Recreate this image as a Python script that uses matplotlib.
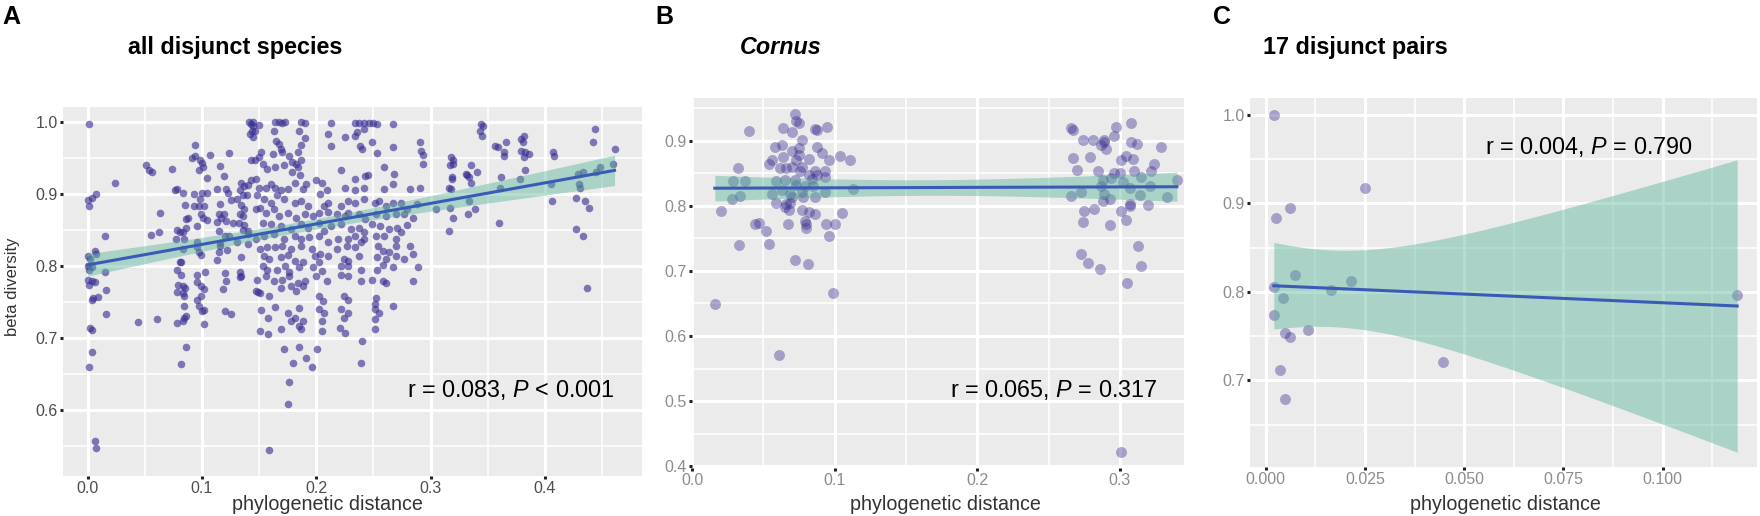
import numpy as np
import matplotlib.pyplot as plt
from matplotlib.ticker import MultipleLocator, FormatStrFormatter

plt.rcParams['font.family'] = ['Liberation Sans', 'DejaVu Sans']
plt.rcParams['mathtext.fontset'] = 'custom'
plt.rcParams['mathtext.rm'] = 'Liberation Sans'
plt.rcParams['mathtext.it'] = 'Liberation Sans:italic'

# ---- panel A: all disjunct species (phylogenetic distance, beta diversity)
a_left = [
    (0.001, 0.998), (0.000, 0.892), (0.001, 0.884), (0.004, 0.894), (0.007, 0.900),
    (0.000, 0.814), (0.002, 0.809), (0.004, 0.798), (0.006, 0.821), (0.007, 0.816),
    (0.000, 0.800), (0.001, 0.794), (0.000, 0.781), (0.004, 0.779), (0.006, 0.778),
    (0.001, 0.774), (0.004, 0.753), (0.005, 0.756), (0.009, 0.757), (0.002, 0.714),
    (0.004, 0.711), (0.004, 0.680), (0.001, 0.660), (0.006, 0.556), (0.007, 0.547),
    (0.015, 0.841), (0.015, 0.791), (0.016, 0.767), (0.016, 0.733), (0.024, 0.916),
    (0.044, 0.722), (0.051, 0.941), (0.054, 0.934), (0.056, 0.930), (0.055, 0.843),
    (0.062, 0.847), (0.063, 0.873), (0.061, 0.726), (0.074, 0.935),
    (0.076, 0.905), (0.078, 0.907), (0.083, 0.902), (0.085, 0.885), (0.088, 0.867),
    (0.086, 0.865), (0.078, 0.850), (0.081, 0.847), (0.083, 0.847), (0.086, 0.853),
    (0.077, 0.837), (0.084, 0.837), (0.083, 0.823), (0.081, 0.806), (0.082, 0.805),
    (0.078, 0.794), (0.082, 0.788), (0.079, 0.774), (0.083, 0.772), (0.085, 0.770),
    (0.078, 0.764), (0.083, 0.763), (0.084, 0.758), (0.084, 0.744), (0.086, 0.731),
    (0.084, 0.727), (0.078, 0.721), (0.083, 0.723), (0.086, 0.688), (0.082, 0.664),
    (0.094, 0.968), (0.091, 0.950), (0.094, 0.953), (0.098, 0.947), (0.100, 0.943),
    (0.097, 0.933), (0.101, 0.937), (0.104, 0.922), (0.093, 0.900), (0.100, 0.901),
    (0.104, 0.901), (0.098, 0.893), (0.093, 0.883), (0.097, 0.883), (0.102, 0.883),
    (0.099, 0.872), (0.101, 0.867), (0.096, 0.856), (0.104, 0.864), (0.096, 0.833),
    (0.096, 0.826), (0.099, 0.815), (0.097, 0.819), (0.096, 0.788), (0.103, 0.792),
    (0.096, 0.778), (0.099, 0.772), (0.102, 0.768), (0.096, 0.753), (0.099, 0.758),
    (0.097, 0.744), (0.100, 0.737), (0.102, 0.739), (0.102, 0.720),
    (0.107, 0.954), (0.124, 0.957), (0.116, 0.939), (0.119, 0.925), (0.113, 0.907),
    (0.121, 0.907), (0.123, 0.902), (0.116, 0.886), (0.125, 0.892), (0.115, 0.872),
    (0.119, 0.872), (0.117, 0.867), (0.113, 0.861), (0.121, 0.863), (0.127, 0.860),
    (0.115, 0.849), (0.120, 0.842), (0.124, 0.842), (0.116, 0.832), (0.116, 0.828),
    (0.115, 0.819), (0.122, 0.822), (0.113, 0.808), (0.120, 0.790), (0.121, 0.779),
    (0.118, 0.768), (0.120, 0.737), (0.125, 0.733),
    (0.143, 0.998), (0.145, 0.994), (0.144, 0.988), (0.142, 0.984), (0.145, 0.979),
    (0.150, 0.996), (0.143, 0.947), (0.150, 0.951), (0.147, 0.921), (0.134, 0.916),
    (0.137, 0.911), (0.140, 0.913), (0.133, 0.906), (0.136, 0.898), (0.131, 0.893),
    (0.139, 0.898), (0.151, 0.881), (0.134, 0.885), (0.137, 0.879), (0.133, 0.872),
    (0.136, 0.869), (0.132, 0.860), (0.137, 0.857), (0.136, 0.850), (0.140, 0.849),
    (0.140, 0.844), (0.131, 0.833), (0.140, 0.830), (0.134, 0.813), (0.133, 0.791),
    (0.134, 0.786), (0.133, 0.784), (0.149, 0.764),
]

a_mid = [
    (0.141, 1.000), (0.145, 1.000), (0.164, 1.000), (0.167, 1.000), (0.170, 0.999),
    (0.173, 1.000), (0.187, 1.000), (0.190, 0.999), (0.213, 0.999), (0.234, 0.999),
    (0.237, 0.999), (0.242, 0.999), (0.246, 0.999), (0.250, 0.999), (0.253, 0.998),
    (0.267, 0.997), (0.146, 0.988), (0.163, 0.988), (0.185, 0.988), (0.210, 0.984),
    (0.234, 0.980), (0.236, 0.986), (0.242, 0.991),
    (0.165, 0.974), (0.167, 0.970), (0.169, 0.963), (0.187, 0.968), (0.190, 0.978),
    (0.213, 0.967), (0.225, 0.979), (0.238, 0.967), (0.240, 0.963), (0.249, 0.973),
    (0.267, 0.965), (0.291, 0.972), (0.292, 0.960), (0.293, 0.954), (0.293, 0.942),
    (0.152, 0.958), (0.162, 0.956), (0.170, 0.958), (0.176, 0.953), (0.184, 0.958),
    (0.182, 0.942), (0.187, 0.947), (0.146, 0.947), (0.253, 0.957), (0.259, 0.937),
    (0.268, 0.928), (0.222, 0.934), (0.234, 0.921), (0.243, 0.925), (0.245, 0.927),
    (0.153, 0.942), (0.157, 0.935), (0.164, 0.937), (0.172, 0.940), (0.179, 0.944),
    (0.184, 0.937), (0.186, 0.926), (0.191, 0.914), (0.179, 0.930),
    (0.143, 0.920), (0.150, 0.909), (0.156, 0.908), (0.160, 0.914), (0.164, 0.909),
    (0.169, 0.905), (0.175, 0.907), (0.181, 0.916), (0.188, 0.907), (0.200, 0.919),
    (0.205, 0.916), (0.209, 0.906), (0.225, 0.909), (0.234, 0.906), (0.242, 0.909),
    (0.259, 0.907), (0.267, 0.914), (0.282, 0.907), (0.291, 0.909),
    (0.148, 0.898), (0.154, 0.893), (0.160, 0.888), (0.166, 0.898), (0.172, 0.893),
    (0.181, 0.888), (0.187, 0.891), (0.193, 0.884), (0.203, 0.900), (0.207, 0.884),
    (0.210, 0.888), (0.222, 0.884), (0.228, 0.891), (0.234, 0.888), (0.242, 0.893),
    (0.251, 0.888), (0.255, 0.891), (0.261, 0.884), (0.267, 0.888), (0.274, 0.888),
    (0.279, 0.879), (0.288, 0.886), (0.305, 0.879),
    (0.147, 0.879), (0.156, 0.874), (0.163, 0.879), (0.167, 0.870), (0.175, 0.874),
    (0.182, 0.867), (0.190, 0.872), (0.197, 0.870), (0.202, 0.874), (0.210, 0.875),
    (0.218, 0.872), (0.225, 0.870), (0.228, 0.874), (0.237, 0.872), (0.243, 0.865),
    (0.252, 0.872), (0.261, 0.870), (0.270, 0.872), (0.277, 0.872), (0.285, 0.867),
    (0.153, 0.860), (0.160, 0.858), (0.169, 0.856), (0.178, 0.851), (0.187, 0.858),
    (0.193, 0.853), (0.202, 0.860), (0.207, 0.849), (0.213, 0.856), (0.222, 0.858),
    (0.230, 0.851), (0.237, 0.853), (0.242, 0.847), (0.249, 0.858), (0.256, 0.856),
    (0.264, 0.851), (0.271, 0.853), (0.279, 0.857),
    (0.147, 0.837), (0.154, 0.842), (0.163, 0.844), (0.172, 0.837), (0.181, 0.842),
    (0.187, 0.837), (0.194, 0.840), (0.202, 0.842), (0.210, 0.833), (0.219, 0.837),
    (0.228, 0.837), (0.234, 0.842), (0.242, 0.837), (0.252, 0.841), (0.259, 0.842),
    (0.270, 0.837), (0.274, 0.847),
    (0.151, 0.823), (0.157, 0.826), (0.164, 0.826), (0.170, 0.828), (0.178, 0.824),
    (0.187, 0.828), (0.196, 0.824), (0.203, 0.816), (0.210, 0.814), (0.218, 0.823),
    (0.227, 0.828), (0.234, 0.826), (0.239, 0.833), (0.254, 0.828), (0.258, 0.821),
    (0.264, 0.819), (0.270, 0.828), (0.282, 0.828), (0.285, 0.816),
    (0.154, 0.814), (0.159, 0.809), (0.169, 0.812), (0.175, 0.815), (0.181, 0.807),
    (0.188, 0.805), (0.199, 0.814), (0.202, 0.805), (0.224, 0.809), (0.228, 0.807),
    (0.237, 0.814), (0.253, 0.812), (0.261, 0.809), (0.270, 0.814), (0.277, 0.809),
    (0.153, 0.800), (0.157, 0.795), (0.166, 0.795), (0.173, 0.800), (0.176, 0.791),
    (0.185, 0.798), (0.197, 0.798), (0.205, 0.793), (0.222, 0.800), (0.228, 0.800),
    (0.239, 0.795), (0.253, 0.795), (0.258, 0.802), (0.267, 0.798), (0.289, 0.798),
    (0.148, 0.781), (0.156, 0.786), (0.163, 0.779), (0.170, 0.781), (0.176, 0.786),
    (0.184, 0.777), (0.190, 0.779), (0.200, 0.786), (0.209, 0.779), (0.222, 0.788),
    (0.228, 0.786), (0.239, 0.779), (0.249, 0.781), (0.258, 0.779), (0.261, 0.777),
    (0.285, 0.779),
    (0.147, 0.765), (0.151, 0.763), (0.159, 0.758), (0.169, 0.770), (0.178, 0.772),
    (0.182, 0.765), (0.188, 0.772), (0.202, 0.758), (0.206, 0.751), (0.224, 0.758),
    (0.228, 0.753), (0.252, 0.756), (0.251, 0.747), (0.267, 0.744),
    (0.152, 0.739), (0.158, 0.728), (0.164, 0.743), (0.175, 0.735), (0.181, 0.728),
    (0.185, 0.742), (0.188, 0.723), (0.202, 0.740), (0.205, 0.723), (0.207, 0.735),
    (0.222, 0.740), (0.228, 0.735), (0.224, 0.728), (0.251, 0.740), (0.255, 0.735),
    (0.251, 0.726),
    (0.151, 0.709), (0.158, 0.705), (0.169, 0.712), (0.178, 0.723), (0.185, 0.716),
    (0.187, 0.712), (0.205, 0.709), (0.221, 0.714), (0.225, 0.707), (0.251, 0.712),
    (0.172, 0.685), (0.185, 0.688), (0.191, 0.672), (0.196, 0.660), (0.180, 0.665),
    (0.201, 0.685), (0.240, 0.695), (0.239, 0.665),
    (0.176, 0.638), (0.175, 0.608), (0.159, 0.544),
]

a_right = [
    (0.344, 0.998), (0.346, 0.995), (0.343, 0.988), (0.345, 0.981),
    (0.318, 0.951), (0.320, 0.947), (0.317, 0.940), (0.320, 0.942),
    (0.335, 0.940), (0.331, 0.928), (0.334, 0.923), (0.341, 0.930), (0.319, 0.923),
    (0.316, 0.909), (0.318, 0.907), (0.319, 0.921), (0.317, 0.881), (0.320, 0.867),
    (0.316, 0.849), (0.334, 0.891), (0.333, 0.872), (0.339, 0.879), (0.332, 0.926),
    (0.335, 0.916),
    (0.356, 0.967), (0.359, 0.965), (0.364, 0.958), (0.366, 0.972), (0.364, 0.953),
    (0.379, 0.977), (0.382, 0.981), (0.381, 0.972), (0.379, 0.960), (0.383, 0.958),
    (0.386, 0.956), (0.383, 0.933), (0.382, 0.951),
    (0.362, 0.923), (0.361, 0.909), (0.360, 0.860), (0.378, 0.921),
    (0.406, 0.891), (0.407, 0.958), (0.408, 0.953), (0.405, 0.914),
    (0.427, 0.895), (0.435, 0.891), (0.439, 0.881), (0.427, 0.851), (0.433, 0.842),
    (0.437, 0.770), (0.429, 0.928), (0.433, 0.930), (0.430, 0.914), (0.444, 0.991),
    (0.442, 0.972), (0.448, 0.937), (0.445, 0.930), (0.461, 0.962), (0.460, 0.942),
    (0.431, 0.909),
]

# ---- panel B: Cornus
b_near = [
    (0.072, 0.941), (0.073, 0.931), (0.075, 0.927), (0.040, 0.915), (0.064, 0.920),
    (0.070, 0.913), (0.086, 0.918), (0.088, 0.917), (0.095, 0.922), (0.077, 0.902),
    (0.058, 0.890), (0.063, 0.894), (0.070, 0.885), (0.075, 0.889), (0.088, 0.890),
    (0.091, 0.881), (0.075, 0.878), (0.064, 0.876), (0.056, 0.871), (0.054, 0.865),
    (0.073, 0.871), (0.082, 0.872), (0.096, 0.870), (0.104, 0.877), (0.111, 0.870),
    (0.032, 0.859), (0.062, 0.858), (0.066, 0.859), (0.070, 0.860), (0.077, 0.860),
    (0.086, 0.854), (0.093, 0.853), (0.076, 0.853), (0.082, 0.848), (0.088, 0.848),
    (0.093, 0.844), (0.029, 0.839), (0.037, 0.839), (0.059, 0.839), (0.065, 0.840),
    (0.072, 0.840), (0.084, 0.841), (0.073, 0.832), (0.079, 0.830), (0.113, 0.826),
    (0.056, 0.818), (0.063, 0.824), (0.069, 0.818), (0.077, 0.822), (0.085, 0.830),
    (0.093, 0.821), (0.028, 0.811), (0.034, 0.816), (0.059, 0.804), (0.070, 0.814),
    (0.078, 0.813), (0.086, 0.814), (0.066, 0.803), (0.069, 0.804), (0.065, 0.798),
    (0.068, 0.793), (0.077, 0.793), (0.082, 0.790), (0.086, 0.788), (0.020, 0.792),
    (0.105, 0.789), (0.044, 0.772), (0.047, 0.774), (0.067, 0.773), (0.079, 0.777),
    (0.080, 0.773), (0.080, 0.766), (0.094, 0.773), (0.100, 0.773), (0.052, 0.762),
    (0.033, 0.740), (0.054, 0.741), (0.096, 0.754), (0.072, 0.717), (0.081, 0.711),
    (0.099, 0.666), (0.016, 0.649), (0.061, 0.571),
]
b_far = [
    (0.266, 0.920), (0.267, 0.917), (0.308, 0.928), (0.297, 0.921), (0.296, 0.907),
    (0.329, 0.891), (0.274, 0.902), (0.281, 0.902), (0.289, 0.902), (0.289, 0.899),
    (0.287, 0.894), (0.290, 0.887), (0.308, 0.899), (0.312, 0.895), (0.267, 0.873),
    (0.279, 0.875), (0.301, 0.871), (0.304, 0.877), (0.309, 0.872), (0.270, 0.856),
    (0.285, 0.854), (0.296, 0.851), (0.300, 0.850), (0.310, 0.854), (0.322, 0.854),
    (0.324, 0.865), (0.315, 0.845), (0.288, 0.840), (0.294, 0.843), (0.302, 0.837),
    (0.287, 0.830), (0.273, 0.821), (0.266, 0.815), (0.289, 0.819), (0.293, 0.810),
    (0.288, 0.807), (0.307, 0.827), (0.314, 0.817), (0.321, 0.830), (0.333, 0.814),
    (0.340, 0.840), (0.275, 0.792), (0.282, 0.796), (0.301, 0.792), (0.307, 0.803),
    (0.307, 0.800), (0.320, 0.801), (0.274, 0.776), (0.293, 0.770), (0.304, 0.778),
    (0.313, 0.739), (0.273, 0.726), (0.278, 0.712), (0.286, 0.703), (0.315, 0.708),
    (0.305, 0.681), (0.301, 0.422),
]

# ---- panel C: 17 disjunct pairs
c_x = [0.002, 0.0026, 0.006, 0.025, 0.0074, 0.002, 0.0044, 0.0164, 0.0214,
       0.002, 0.0049, 0.0061, 0.0107, 0.0036, 0.0049, 0.0447, 0.1188]
c_y = [1.000, 0.883, 0.895, 0.917, 0.819, 0.805, 0.793, 0.802, 0.812,
       0.774, 0.753, 0.749, 0.757, 0.712, 0.679, 0.721, 0.796]

titles = ['all disjunct species', 'Cornus', '17 disjunct pairs']
letters = ['A', 'B', 'C']
stats = [r'r = 0.083, $\mathit{P}$ < 0.001',
         r'r = 0.065, $\mathit{P}$ = 0.317',
         r'r = 0.004, $\mathit{P}$ = 0.790']
t_crit = [1.965, 1.977, 2.131]

W, H = 1760, 516
fig = plt.figure(figsize=(W / 100, H / 100), dpi=100)

PT = '#372E92'
LINE = '#3A5BB5'
BAND = '#5BB59A'


def px_axes(l, t, r, b):
    return fig.add_axes([l / W, 1 - b / H, (r - l) / W, (b - t) / H])


def style(ax, xstep, ystep, xfmt, tick_col):
    ax.set_facecolor('#EBEBEB')
    for s in ax.spines.values():
        s.set_visible(False)
    ax.xaxis.set_major_locator(MultipleLocator(xstep))
    ax.xaxis.set_minor_locator(MultipleLocator(xstep / 2))
    ax.yaxis.set_major_locator(MultipleLocator(ystep))
    ax.yaxis.set_minor_locator(MultipleLocator(ystep / 2))
    ax.xaxis.set_major_formatter(FormatStrFormatter(xfmt))
    ax.yaxis.set_major_formatter(FormatStrFormatter('%.1f'))
    ax.grid(which='major', color='white', lw=2.2)
    ax.grid(which='minor', color='white', lw=1.1)
    ax.set_axisbelow(True)
    ax.tick_params(which='minor', length=0)
    ax.tick_params(which='major', length=2.4, width=2.2, color='#222222',
                   labelsize=11.5, labelcolor=tick_col, pad=1.5)


def smooth(ax, x, y, t):
    x = np.asarray(x)
    y = np.asarray(y)
    n = len(x)
    b1, b0 = np.polyfit(x, y, 1)
    s = np.sqrt(np.sum((y - (b0 + b1 * x)) ** 2) / (n - 2))
    xg = np.linspace(x.min(), x.max(), 100)
    yg = b0 + b1 * xg
    se = s * np.sqrt(1 / n + (xg - x.mean()) ** 2 / np.sum((x - x.mean()) ** 2))
    ax.fill_between(xg, yg - t * se, yg + t * se, color=BAND, alpha=0.45, lw=0)
    ax.plot(xg, yg, color=LINE, lw=2.2)


# panel A
axA = px_axes(63, 107, 642, 476)
a_all = np.array(a_left + a_mid + a_right)
axA.scatter(a_all[:, 0], a_all[:, 1], s=30, color=PT, alpha=0.62, lw=0)
smooth(axA, a_all[:, 0], a_all[:, 1], t_crit[0])
axA.set_xlim(-0.0216, 0.485)
axA.set_ylim(0.508, 1.021)
style(axA, 0.1, 0.1, '%.1f', '#4D4D4D')

# panel B
axB = px_axes(692, 98, 1184, 468)
b_all = np.array(b_near + b_far)
axB.scatter(b_all[:, 0], b_all[:, 1], s=62, color=PT, alpha=0.4, lw=0)
smooth(axB, b_all[:, 0], b_all[:, 1], t_crit[1])
axB.set_xlim(0.0, 0.345)
axB.set_ylim(0.397, 0.966)
style(axB, 0.1, 0.1, '%.1f', '#8C8C8C')

# panel C
axC = px_axes(1250, 98, 1757, 467)
axC.scatter(c_x, c_y, s=62, color=PT, alpha=0.4, lw=0)
smooth(axC, c_x, c_y, t_crit[2])
axC.set_xlim(-0.004, 0.1238)
axC.set_ylim(0.602, 1.019)
style(axC, 0.025, 0.1, '%.3f', '#8C8C8C')

# letters and titles
for lx, txt in zip([2, 655, 1213], letters):
    fig.text(lx / W, 1 - 5 / H, txt, ha='left', va='top', fontsize=18,
             fontweight='bold', color='black')
fig.text(128 / W, 1 - 54 / H, titles[0], ha='left', va='baseline',
         fontsize=16.8, fontweight='bold')
fig.text(740 / W, 1 - 54 / H, titles[1], ha='left', va='baseline',
         fontsize=16.8, fontweight='bold', fontstyle='italic')
fig.text(1263 / W, 1 - 54 / H, titles[2], ha='left', va='baseline',
         fontsize=16.8, fontweight='bold')

# stats annotations
fig.text(615 / W, 1 - 390 / H, stats[0], ha='right', va='center', fontsize=16.8)
fig.text(1158 / W, 1 - 390 / H, stats[1], ha='right', va='center', fontsize=16.8)
fig.text(1693 / W, 1 - 147 / H, stats[2], ha='right', va='center', fontsize=16.8)

# axis titles
for cx in [327, 945, 1505]:
    fig.text(cx / W, 1 - 504 / H, 'phylogenetic distance', ha='center', va='center',
             fontsize=14.2, color='#333333')
fig.text(13 / W, 1 - 287 / H, 'beta diversity', ha='center', va='center',
         rotation=90, fontsize=12, color='#333333')

fig.savefig('out.png', dpi=100)
